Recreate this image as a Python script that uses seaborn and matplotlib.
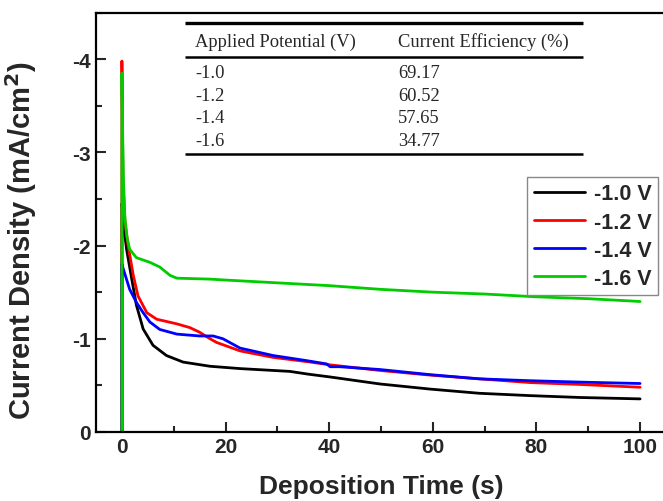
import numpy as np
import pandas as pd
import seaborn as sns
import matplotlib.pyplot as plt
from matplotlib.ticker import MultipleLocator

# current density (mA/cm2, plotted as negative values)
t_10 = [0, 0, 0.1, 0.26, 0.9, 1.9, 2.8, 4.1, 6.0, 8.6, 11.8, 17, 22.8, 26, 32.4, 36, 40.2, 49.8, 59.5, 69, 78.8, 88.4, 100]
j_10 = [0, 2.45, 2.4, 2.25, 1.96, 1.64, 1.36, 1.105, 0.93, 0.82, 0.75, 0.705, 0.68, 0.67, 0.65, 0.62, 0.59, 0.515, 0.46, 0.415, 0.39, 0.37, 0.355]

t_12 = [0, 0, 0.2, 0.6, 1.2, 2.2, 3.1, 4.8, 6.7, 10.6, 13.1, 15, 17, 18.3, 22.8, 29.2, 35.7, 40.2, 49.8, 59.5, 69, 78.8, 88.4, 100]
j_12 = [0, 3.98, 2.7, 2.25, 2.0, 1.68, 1.46, 1.28, 1.21, 1.16, 1.12, 1.07, 1.00, 0.96, 0.87, 0.80, 0.755, 0.72, 0.66, 0.61, 0.57, 0.53, 0.51, 0.48]

t_14 = [0, 0, 0.26, 1.5, 2.8, 4.1, 5.4, 7.3, 10.6, 15, 17.6, 19.5, 22.8, 29.2, 35.7, 39.5, 40.2, 42, 49.8, 59.5, 69, 78.8, 88.4, 100]
j_14 = [0, 1.8, 1.75, 1.53, 1.39, 1.28, 1.18, 1.10, 1.05, 1.03, 1.03, 1.00, 0.90, 0.82, 0.765, 0.73, 0.70, 0.70, 0.67, 0.615, 0.57, 0.55, 0.535, 0.52]

t_16 = [0, 0, 0.15, 0.3, 0.58, 1.0, 1.5, 2.8, 5.4, 7.3, 9.3, 10.6, 17, 20, 30, 40, 50, 60, 70, 80, 90, 100]
j_16 = [0, 3.85, 3.2, 2.7, 2.29, 2.08, 1.96, 1.87, 1.82, 1.77, 1.68, 1.65, 1.64, 1.63, 1.60, 1.57, 1.53, 1.50, 1.48, 1.45, 1.43, 1.40]

labels = ["-1.0 V", "-1.2 V", "-1.4 V", "-1.6 V"]
colors = ["black", "#ff0000", "#0000ff", "#00cc00"]

# table inset
potentials = ["-1.0", "-1.2", "-1.4", "-1.6"]
efficiency = ["69.17", "60.52", "57.65", "34.77"]

frames = []
for lab, t, j in zip(labels, [t_10, t_12, t_14, t_16], [j_10, j_12, j_14, j_16]):
    frames.append(pd.DataFrame({"time": t, "density": -np.array(j), "series": lab}))
df = pd.concat(frames, ignore_index=True)

sns.set_style("ticks")
plt.rcParams["font.family"] = ["Liberation Sans", "DejaVu Sans"]
plt.rcParams["axes.unicode_minus"] = False

fig = plt.figure(figsize=(6.63, 5.02), dpi=100)
ax = fig.add_axes([0.1448, 0.1375, 0.8597, 0.8355])

sns.lineplot(data=df, x="time", y="density", hue="series", palette=colors,
             sort=False, estimator=None, linewidth=2.0, ax=ax)

ax.set_xlim(-5, 105)
ax.set_ylim(0, -4.5)
ax.xaxis.set_major_locator(MultipleLocator(20))
ax.xaxis.set_minor_locator(MultipleLocator(10))
ax.yaxis.set_major_locator(MultipleLocator(1))
ax.yaxis.set_minor_locator(MultipleLocator(0.5))
ax.tick_params(which="both", direction="in", width=1.5, labelsize=15)
ax.tick_params(which="major", length=7)
ax.tick_params(which="minor", length=4)
for lbl in ax.get_xticklabels() + ax.get_yticklabels():
    lbl.set_fontweight("bold")
for s in ax.spines.values():
    s.set_linewidth(1.6)
    s.set_color("black")

ax.set_xlabel("Deposition Time (s)", fontsize=19, fontweight="bold")
ax.set_ylabel("Current Density (mA/cm$^\\mathbf{2}$)", fontsize=21, fontweight="bold")
ax.xaxis.set_label_coords(0.5, -0.1)
ax.yaxis.set_label_coords(-0.1, 0.458)

leg = ax.legend(loc="upper right", bbox_to_anchor=(0.986, 0.608), borderaxespad=0,
                fancybox=False, edgecolor="#888888", framealpha=1,
                prop={"weight": "bold", "size": 15.5}, labelspacing=0.33,
                handlelength=2.4, handletextpad=0.4, borderpad=0.3)
for line in leg.get_lines():
    line.set_linewidth(2.0)

# table drawn as text plus rules
serif = ["Liberation Serif", "DejaVu Serif"]
ax.hlines([0.975], 0.156, 0.854, transform=ax.transAxes, color="black", linewidth=2.4)
ax.hlines([0.894, 0.663], 0.156, 0.854, transform=ax.transAxes, color="black", linewidth=1.8)
ax.text(0.174, 0.932, "Applied Potential (V)", transform=ax.transAxes, family=serif,
        fontsize=13.3, va="center")
ax.text(0.530, 0.932, "Current Efficiency (%)", transform=ax.transAxes, family=serif,
        fontsize=13.3, va="center")
row_y = [0.858, 0.803, 0.749, 0.694]
for y, p, e in zip(row_y, potentials, efficiency):
    ax.text(0.174, y, p, transform=ax.transAxes, family=serif, fontsize=13.3, va="center")
    ax.text(0.530, y, e, transform=ax.transAxes, family=serif, fontsize=13.3, va="center")

fig.savefig("out.png", dpi=100)
